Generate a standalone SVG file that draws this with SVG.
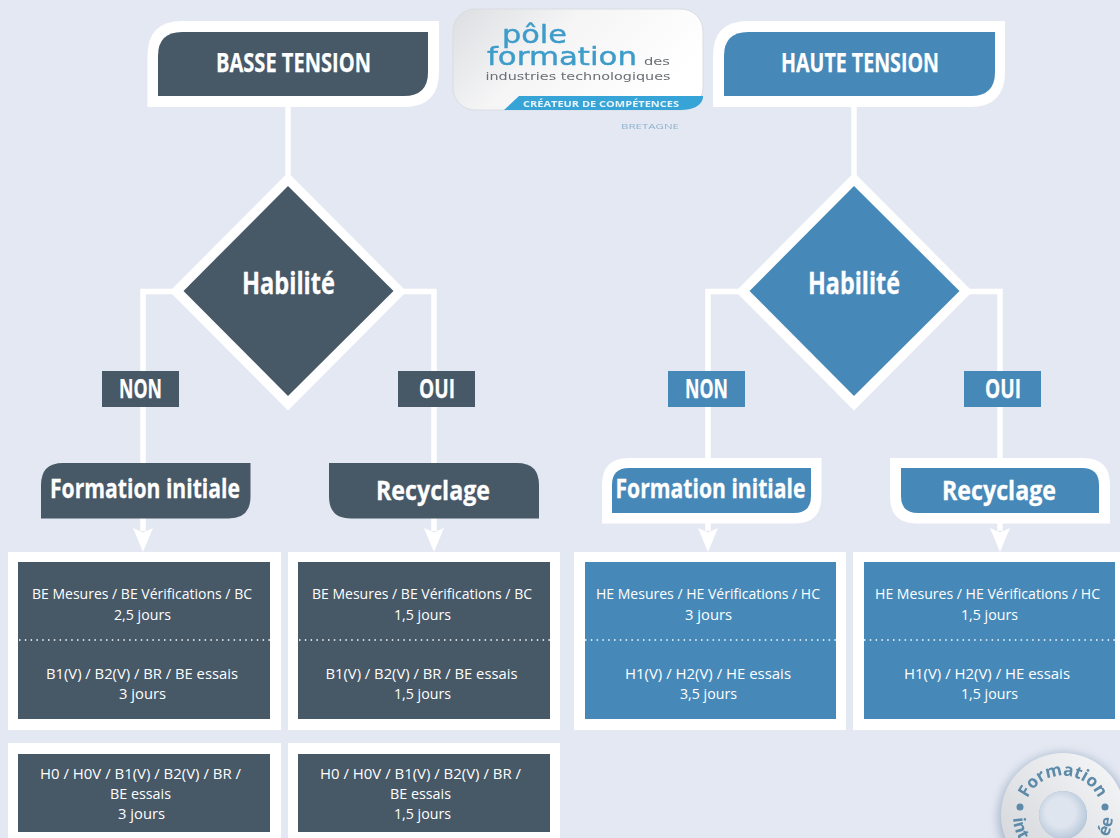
<svg xmlns="http://www.w3.org/2000/svg" width="1120" height="838" viewBox="0 0 1120 838">
<style>
text{font-family:"Open Sans","Noto Sans","DejaVu Sans",sans-serif;text-anchor:middle;fill:#fff}
.b{font-size:14px}
.h{font-weight:700;font-size:27px;stroke:#fff;stroke-width:.25}
.d{font-weight:700;font-size:30px;stroke:#fff;stroke-width:.3}
.n{font-weight:700;font-size:26px;stroke:#fff;stroke-width:.25}
.f{font-weight:700;font-size:27px;stroke:#fff;stroke-width:.3}
.w{fill:#fff}
.dk{fill:#475867}
.bl{fill:#4689b9}
.c{fill:none;stroke:#fff;stroke-width:5.5}
.dot{stroke:#fff;stroke-width:1.5;stroke-dasharray:1.5 4.3;fill:none}
.lg{font-family:"DejaVu Sans",sans-serif}
.bd{font-size:17px;font-weight:700;fill:#5c8aa8}
</style>
<defs>
<marker id="arr" viewBox="0 0 24 20" refX="3" refY="10" markerWidth="24" markerHeight="20" markerUnits="userSpaceOnUse" orient="auto">
<path d="M0 0L4.500 10L0 20L24 10Z" fill="#fff"/>
</marker>
<linearGradient id="lg" x1="0" y1="0" x2="1" y2="0.400"><stop offset="0" stop-color="#dcdee1"/><stop offset="0.450" stop-color="#f5f5f6"/><stop offset="1" stop-color="#ffffff"/></linearGradient>
<linearGradient id="rg" x1="0" y1="1" x2="1" y2="0"><stop offset="0" stop-color="#d0d3d8"/><stop offset="1" stop-color="#f7f8f9"/></linearGradient>
<radialGradient id="hole" cx="0.450" cy="0.450" r="0.600"><stop offset="0.500" stop-color="#dfe5ef"/><stop offset="1" stop-color="#b3c5d8"/></radialGradient>
<filter id="soft" x="-5%" y="-5%" width="110%" height="110%"><feGaussianBlur stdDeviation="0.5"/></filter>
<filter id="sh" x="-30%" y="-30%" width="160%" height="160%"><feGaussianBlur stdDeviation="5"/></filter>
<path id="arcTop" d="M1024.100 811.700A39 39 0 0 1 1101.900 811.700"/>
<path id="arcBot" d="M1013 815A50 50 0 0 0 1113 815"/>
</defs>
<rect width="1120" height="838" fill="#e4e8f2"/>
<g id="connectors">
<path class="c" d="M288 105V178"/>
<path class="c" d="M854 105V178"/>
<path class="c" marker-end="url(#arr)" d="M175 291.500H143V531"/>
<path class="c" marker-end="url(#arr)" d="M401 291.500H434V531"/>
<path class="c" marker-end="url(#arr)" d="M741 291.500H708V531"/>
<path class="c" marker-end="url(#arr)" d="M967 291.500H1000V531"/>
</g>
<g id="basse-tension">
<path class="w" d="M147.500 107V56Q147.500 21 182 21H439V72Q439 107 404 107Z"/>
<path class="dk" d="M158 96V56Q158 32 182 32H428V72Q428 96 404 96Z"/>
<text class="h" x="293.500" y="72" textLength="155" lengthAdjust="spacingAndGlyphs">BASSE TENSION</text>
</g>
<g id="haute-tension">
<path class="w" d="M713 107V56Q713 21 748 21H1005V72Q1005 107 970 107Z"/>
<path class="bl" d="M724 96V56Q724 32 748 32H995V72Q995 96 971 96Z"/>
<text class="h" x="860" y="72" textLength="158" lengthAdjust="spacingAndGlyphs">HAUTE TENSION</text>
</g>
<g id="logo">
<rect x="453" y="9" width="250" height="101" rx="22" fill="url(#lg)" stroke="#d9dce2" stroke-width="1"/>
<path d="M504 110L519 96H703V98Q700 110 680 110Z" fill="#36a4d6"/>
<g filter="url(#soft)">
<text class="lg" x="534.500" y="43" font-size="25" textLength="65" lengthAdjust="spacingAndGlyphs" style="fill:#3d9cc9;stroke:#3d9cc9;stroke-width:.4">pôle</text>
<text class="lg" x="562" y="65" font-size="25" textLength="150" lengthAdjust="spacingAndGlyphs" style="fill:#3d9cc9;stroke:#3d9cc9;stroke-width:.4">formation</text>
<text class="lg" x="657" y="65" font-size="10" textLength="26" lengthAdjust="spacingAndGlyphs" style="fill:#6b6f74">des</text>
<text class="lg" x="578" y="80" font-size="10" textLength="185" lengthAdjust="spacingAndGlyphs" style="fill:#6b6f74">industries technologiques</text>
<text x="601" y="107" font-size="9" font-weight="700" textLength="156" lengthAdjust="spacingAndGlyphs" style="fill:#e8f4fb">CRÉATEUR DE COMPÉTENCES</text>
<text x="650" y="129" font-size="8" textLength="58" lengthAdjust="spacingAndGlyphs" style="fill:#8fb2cf">BRETAGNE</text>
</g>
</g>
<g id="habilite-bt">
<path class="w" d="M288 172.500L406.500 291.500L288 410.500L169.500 291.500Z"/>
<path class="dk" d="M288 186L393.500 291L288 396L183.500 291Z"/>
<text class="d" x="288.500" y="294" textLength="93" lengthAdjust="spacingAndGlyphs">Habilité</text>
</g>
<g id="habilite-ht">
<path class="w" d="M854 172.500L972.500 291.500L854 410.500L735.500 291.500Z"/>
<path class="bl" d="M854 186L959.500 291L854 396L749.500 291Z"/>
<text class="d" x="854" y="294" textLength="92" lengthAdjust="spacingAndGlyphs">Habilité</text>
</g>
<g id="non-bt"><rect class="dk" x="102" y="371" width="77" height="36"/><text class="n" x="140.500" y="398" textLength="43" lengthAdjust="spacingAndGlyphs">NON</text></g>
<g id="oui-bt"><rect class="dk" x="398" y="371" width="77" height="36"/><text class="n" x="437" y="398" textLength="36" lengthAdjust="spacingAndGlyphs">OUI</text></g>
<g id="non-ht"><rect class="bl" x="668" y="371" width="77" height="36"/><text class="n" x="706.500" y="398" textLength="43" lengthAdjust="spacingAndGlyphs">NON</text></g>
<g id="oui-ht"><rect class="bl" x="964" y="371" width="77" height="36"/><text class="n" x="1003" y="398" textLength="36" lengthAdjust="spacingAndGlyphs">OUI</text></g>
<g id="fi-bt">
<path class="dk" d="M41 518.500V485Q41 463 63 463H250.500V496.500Q250.500 518.500 228.500 518.500Z"/>
<text class="f" x="145" y="498" textLength="190" lengthAdjust="spacingAndGlyphs">Formation initiale</text>
</g>
<g id="rec-bt">
<path class="dk" d="M329 463H517Q539 463 539 485V518.500H351Q329 518.500 329 496.500Z"/>
<text class="f" x="433" y="500" textLength="114" lengthAdjust="spacingAndGlyphs">Recyclage</text>
</g>
<g id="fi-ht">
<path class="w" d="M602 523.500V485Q602 458 629 458H821.500V496.500Q821.500 523.500 794.500 523.500Z"/>
<path class="bl" d="M612 513V485Q612 468 629 468H811V496Q811 513 794 513Z"/>
<text class="f" x="710.500" y="498" textLength="190" lengthAdjust="spacingAndGlyphs">Formation initiale</text>
</g>
<g id="rec-ht">
<path class="w" d="M890 458H1083Q1110 458 1110 485V523.500H917Q890 523.500 890 496.500Z"/>
<path class="bl" d="M901 468H1082Q1099 468 1099 485V513H918Q901 513 901 496Z"/>
<text class="f" x="999" y="500" textLength="114" lengthAdjust="spacingAndGlyphs">Recyclage</text>
</g>
<g id="box-bt-fi">
<rect class="w" x="8" y="552" width="273" height="178"/><rect class="dk" x="18" y="562" width="252" height="157"/>
<path class="dot" d="M19 640H270"/>
<text class="b" x="142" y="599" textLength="220" lengthAdjust="spacingAndGlyphs">BE Mesures / BE Vérifications / BC</text>
<text class="b" x="142.500" y="620" textLength="57" lengthAdjust="spacingAndGlyphs">2,5 jours</text>
<text class="b" x="142" y="679" textLength="192" lengthAdjust="spacingAndGlyphs">B1(V) / B2(V) / BR / BE essais</text>
<text class="b" x="142.500" y="699" textLength="47" lengthAdjust="spacingAndGlyphs">3 jours</text>
</g>
<g id="box-bt-rec">
<rect class="w" x="288" y="552" width="272" height="178"/><rect class="dk" x="298" y="562" width="252" height="157"/>
<path class="dot" d="M299 640H550"/>
<text class="b" x="422" y="599" textLength="220" lengthAdjust="spacingAndGlyphs">BE Mesures / BE Vérifications / BC</text>
<text class="b" x="422.500" y="620" textLength="57" lengthAdjust="spacingAndGlyphs">1,5 jours</text>
<text class="b" x="421.500" y="679" textLength="192" lengthAdjust="spacingAndGlyphs">B1(V) / B2(V) / BR / BE essais</text>
<text class="b" x="422.500" y="699" textLength="57" lengthAdjust="spacingAndGlyphs">1,5 jours</text>
</g>
<g id="box-ht-fi">
<rect class="w" x="574" y="552" width="272" height="178"/><rect class="bl" x="585" y="562" width="251" height="157"/>
<path class="dot" d="M585 640H836"/>
<text class="b" x="708" y="599" textLength="224" lengthAdjust="spacingAndGlyphs">HE Mesures / HE Vérifications / HC</text>
<text class="b" x="708.500" y="620" textLength="47" lengthAdjust="spacingAndGlyphs">3 jours</text>
<text class="b" x="708" y="679" textLength="166" lengthAdjust="spacingAndGlyphs">H1(V) / H2(V) / HE essais</text>
<text class="b" x="708.500" y="699" textLength="57" lengthAdjust="spacingAndGlyphs">3,5 jours</text>
</g>
<g id="box-ht-rec">
<rect class="w" x="853" y="552" width="267" height="178"/><rect class="bl" x="864" y="562" width="251" height="157"/>
<path class="dot" d="M864 640H1115"/>
<text class="b" x="987.500" y="599" textLength="225" lengthAdjust="spacingAndGlyphs">HE Mesures / HE Vérifications / HC</text>
<text class="b" x="989.500" y="620" textLength="57" lengthAdjust="spacingAndGlyphs">1,5 jours</text>
<text class="b" x="987" y="679" textLength="166" lengthAdjust="spacingAndGlyphs">H1(V) / H2(V) / HE essais</text>
<text class="b" x="989.500" y="699" textLength="57" lengthAdjust="spacingAndGlyphs">1,5 jours</text>
</g>
<g id="box-bt-fi-2">
<rect class="w" x="8" y="743" width="273" height="95"/><rect class="dk" x="18" y="754" width="252" height="78"/>
<text class="b" x="140.500" y="779" textLength="201" lengthAdjust="spacingAndGlyphs">H0 / H0V / B1(V) / B2(V) / BR /</text>
<text class="b" x="140.500" y="799" textLength="61" lengthAdjust="spacingAndGlyphs">BE essais</text>
<text class="b" x="141.500" y="819" textLength="47" lengthAdjust="spacingAndGlyphs">3 jours</text>
</g>
<g id="box-bt-rec-2">
<rect class="w" x="288" y="743" width="272" height="95"/><rect class="dk" x="298" y="754" width="252" height="78"/>
<text class="b" x="420.500" y="779" textLength="201" lengthAdjust="spacingAndGlyphs">H0 / H0V / B1(V) / B2(V) / BR /</text>
<text class="b" x="420.500" y="799" textLength="61" lengthAdjust="spacingAndGlyphs">BE essais</text>
<text class="b" x="422.500" y="819" textLength="57" lengthAdjust="spacingAndGlyphs">1,5 jours</text>
</g>
<g id="badge">
<circle cx="1063" cy="818" r="65" fill="#a9b9cd" filter="url(#sh)"/>
<path fill-rule="evenodd" fill="url(#rg)" d="M1001 815a62 62 0 1 1 124 0a62 62 0 1 1 -124 0ZM1039 815a24 24 0 1 0 48 0a24 24 0 1 0 -48 0Z"/>
<circle cx="1063" cy="815" r="24" fill="url(#hole)"/>
<g filter="url(#soft)">
<text class="bd"><textPath href="#arcTop" startOffset="50%">Formation</textPath></text>
<circle cx="1020" cy="807" r="3.500" fill="#5c8aa8"/>
<circle cx="1105" cy="807" r="3.500" fill="#5c8aa8"/>
<text class="bd" style="text-anchor:start"><textPath href="#arcBot" startOffset="3">int</textPath></text>
<text class="bd" style="text-anchor:end"><textPath href="#arcBot" startOffset="154">ée</textPath></text>
</g>
</g>
</svg>
